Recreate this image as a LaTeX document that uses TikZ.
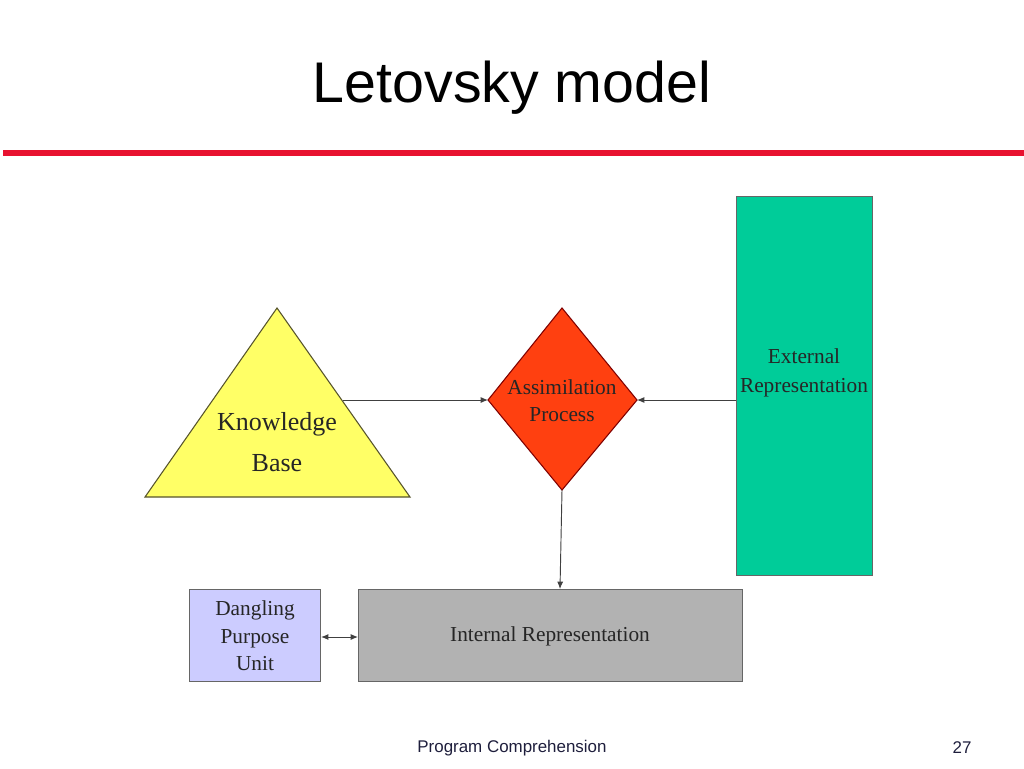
\documentclass[tikz,border=0pt]{standalone}
\usepackage{fontspec}
\setmainfont{Liberation Serif}
\newfontfamily\arialf{Liberation Sans}
\usetikzlibrary{arrows.meta}
\definecolor{redline}{RGB}{232,18,48}
\definecolor{kbyellow}{RGB}{255,255,102}
\definecolor{aporange}{RGB}{255,64,16}
\definecolor{exgreen}{RGB}{0,204,153}
\definecolor{irgray}{RGB}{178,178,178}
\definecolor{dpblue}{RGB}{204,204,255}
\definecolor{footcol}{RGB}{30,30,60}
\tikzset{
  box/.style={draw=black!60, line width=0.8pt, inner sep=0pt, anchor=north west},
  lbl/.style={align=center, font=\fontsize{16}{21}\selectfont, text=black!85},
  conn/.style={draw=black!75, line width=0.7pt, -{Latex[length=5.5pt,width=4.5pt]}},
}
\begin{document}
\begin{tikzpicture}[x=0.75pt,y=-0.75pt]
\useasboundingbox (0,0) rectangle (1024,768);
% title
\node[font=\arialf\fontsize{43}{50}\selectfont] (title) at (512,88) {Letovsky model};
\draw[redline, line width=3.8pt] (3,153) -- (1024,153);
% knowledge base triangle
\draw[fill=kbyellow, draw=black!50!olive, line width=0.8pt] (277,308) -- (410,497) -- (145,497) -- cycle;
\coordinate (kbout) at (343,400);
\node[lbl, font=\fontsize{19.5}{31}\selectfont] (kb) at (277,442) {Knowledge\\Base};
% assimilation diamond
\draw[fill=aporange, draw=black!50!red, line width=0.8pt] (562,308) -- (637,400) -- (562,490) -- (488,400) -- cycle;
\coordinate (apL) at (488,400);
\coordinate (apR) at (637,400);
\coordinate (apB) at (562,490);
\node[lbl, font=\fontsize{16}{20.5}\selectfont] (ap) at (562,401) {Assimilation\\Process};
% external representation
\node[box, fill=exgreen, minimum width=136*0.75pt, minimum height=379*0.75pt] (ext) at (736,196) {};
\node[lbl, font=\fontsize{16}{22}\selectfont] (extl) at (804,373) {External\\Representation};
\coordinate (extL) at (736,400);
% internal representation
\node[box, fill=irgray, minimum width=384*0.75pt, minimum height=92*0.75pt] (int) at (358,589) {};
\node[lbl] at (550,636) {Internal Representation};
\coordinate (intT) at (560,589);
% dangling purpose unit
\node[box, fill=dpblue, minimum width=131*0.75pt, minimum height=92*0.75pt] (dpu) at (189,589) {};
\node[lbl, font=\fontsize{16}{20.5}\selectfont] at (255,636) {Dangling\\Purpose\\Unit};
% connectors
\draw[conn] (kbout) -- (apL);
\draw[conn] (extL) -- (apR);
\draw[conn] (apB) -- (intT);
\draw[conn, {Latex[length=5.5pt,width=4.5pt]}-{Latex[length=5.5pt,width=4.5pt]}] (dpu.east |- 0,637) -- (int.west |- 0,637);
% footer
\node[font=\arialf\fontsize{12.7}{15}\selectfont, text=footcol] (foot) at (512,748) {Program Comprehension};
\node[font=\arialf\fontsize{12.7}{15}\selectfont, text=footcol] (page) at (962,748) {27};
\end{tikzpicture}
\end{document}
